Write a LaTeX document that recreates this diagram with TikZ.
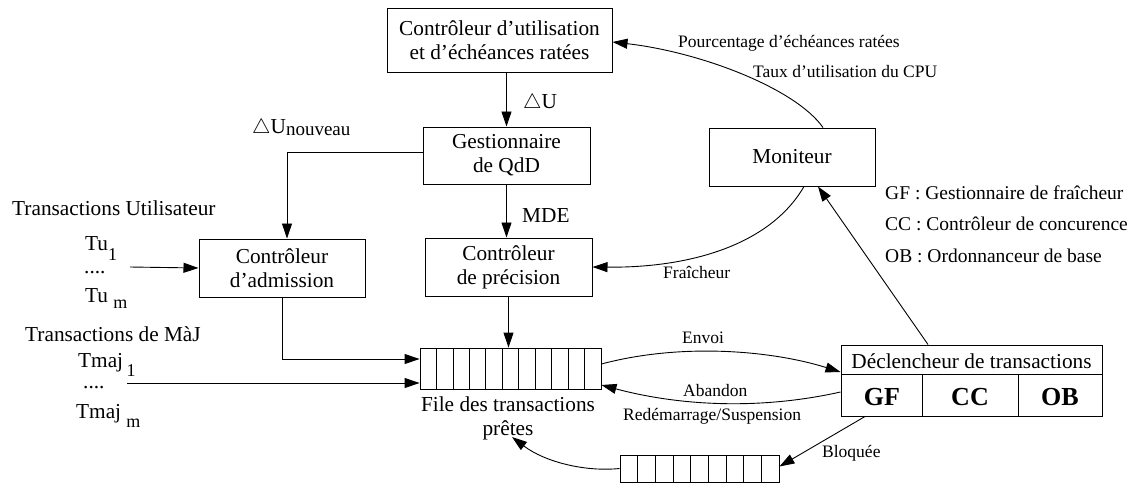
\documentclass[tikz,border=0pt]{standalone}
\usepackage{fontspec}
\setmainfont{Liberation Serif}
\usetikzlibrary{arrows.meta,calc}
\newcommand\fmain{\fontsize{21.3}{24}\selectfont}
\newcommand\fsmall{\fontsize{17.5}{20}\selectfont}
\newcommand\flegend{\fontsize{19.5}{22}\selectfont}
\newcommand\fbig{\fontsize{26}{28}\selectfont\bfseries}
\newcommand\fsub{\fontsize{18}{20}\selectfont}
\begin{document}
\begin{tikzpicture}[x=1pt,y=-1pt,
  box/.style={draw, line width=1pt, inner sep=0pt, align=center, font=\fmain},
  lbl/.style={inner sep=0pt, anchor=base west},
  arr/.style={line width=0.9pt, -{Triangle[length=15pt,width=10pt]}},
  plain/.style={line width=0.9pt},
  cell/.style={line width=0.8pt}]
\useasboundingbox (0,0) rectangle (1138,485);

% boxes
\node[box, minimum width=225pt, minimum height=64pt] (cu) at (499.5,40) {Contrôleur d’utilisation\\et d’échéances ratées};
\node[box, minimum width=167pt, minimum height=57pt] (qdd) at (506.5,155.5) {Gestionnaire\\de QdD};
\node[box, minimum width=167pt, minimum height=58pt] (prec) at (508.5,267) {Contrôleur\\de précision};
\node[box, minimum width=166pt, minimum height=58pt] (adm) at (282,268) {Contrôleur\\d’admission};
\node[box, minimum width=166pt, minimum height=58pt] (mon) at (792,157) {Moniteur};

% ready queue
\node[draw, line width=0.9pt, inner sep=0pt, minimum width=181pt, minimum height=41pt] (q) at (510.5,368.5) {};
\foreach \i in {1,...,10} \draw[cell] ({420+\i*181/11},348) -- ({420+\i*181/11},389);
\node[inner sep=0pt, align=center, font=\fmain] (fl) at (508,418) {File des transactions\\prêtes};

% blocked queue
\node[draw, line width=0.9pt, inner sep=0pt, minimum width=159pt, minimum height=27pt] (bq) at (699.5,468.5) {};
\foreach \i in {1,...,8} \draw[cell] ({620+\i*159/9},455) -- ({620+\i*159/9},482);

% trigger box
\node[draw, line width=1pt, inner sep=0pt, minimum width=261pt, minimum height=71pt] (dec) at (971.5,380.5) {};
\draw[line width=1pt] (841,374) -- (1102,374);
\draw[line width=1pt] (922,374) -- (922,416);
\draw[line width=1pt] (1018,374) -- (1018,416);
\node[lbl, anchor=base, font=\fmain] (dect) at (971.5,368) {Déclencheur de transactions};
\node[lbl, anchor=base, font=\fbig] (gf) at (882,405) {GF};
\node[lbl, anchor=base, font=\fbig] (cc) at (970,405) {CC};
\node[lbl, anchor=base, font=\fbig] (ob) at (1060,405) {OB};

% left texts
\node[lbl, font=\fmain] (tut) at (12,215) {Transactions Utilisateur};
\node[lbl, font=\fmain] (tu1) at (85,250) {Tu\raisebox{-10pt}{\fsub 1}};
\node[lbl, font=\fmain] (tud) at (84,273) {....};
\node[lbl, font=\fmain] (tum) at (85,302) {Tu \raisebox{-6pt}{\fsub m}};
\node[lbl, font=\fmain] (tmt) at (25,341) {Transactions de MàJ};
\node[lbl, font=\fmain] (tm1) at (78,367) {Tmaj\,\raisebox{-9pt}{\fsub 1}};
\node[lbl, font=\fmain] (tmd) at (83,388) {....};
\node[lbl, font=\fmain] (tmm) at (76,418) {Tmaj \raisebox{-9pt}{\fsub m}};
\coordinate (tu) at (130,267);
\coordinate (tm) at (127,383);

% labels
\node[lbl, font=\fmain] (du) at (523,108) {$\bigtriangleup$U};
\node[lbl, font=\fmain] (mde) at (522,222) {MDE};
\node[lbl, font=\fmain] (dun) at (252,133) {$\bigtriangleup$U\raisebox{-2pt}{\fontsize{19}{20}\selectfont nouveau}};
\node[lbl, font=\fsmall] (pct) at (678,47) {Pourcentage d’échéances ratées};
\node[lbl, font=\fsmall] (taux) at (753,77) {Taux d’utilisation du CPU};
\node[lbl, font=\fsmall] (fra) at (663,278) {Fraîcheur};
\node[lbl, font=\fsmall] (env) at (682,343) {Envoi};
\node[lbl, font=\fsmall] (aba) at (683,396) {Abandon};
\node[lbl, font=\fsmall] (red) at (623,420) {Redémarrage/Suspension};
\node[lbl, font=\fsmall] (blo) at (822,457) {Bloquée};
\node[lbl, font=\flegend] (lgf) at (885,199) {GF : Gestionnaire de fraîcheur};
\node[lbl, font=\flegend] (lcc) at (885,230) {CC : Contrôleur de concurence};
\node[lbl, font=\flegend] (lob) at (885,262) {OB : Ordonnanceur de base};
\coordinate (ptip) at (512,437);

% connectors
\draw[arr] (qdd.north |- cu.south) -- (qdd.north);
\draw[arr] (qdd.south) -- (qdd.south |- prec.north);
\draw[arr] (prec.south) -- (prec.south |- q.north);
\draw[arr] ([yshift=3pt]qdd.west) -| ([xshift=5pt]adm.north);
\draw[arr] (adm.south) |- ([yshift=9.5pt]q.west);
\draw[arr] (tm) -- ([yshift=-14.5pt]q.west);
\draw[arr] (tu) -- (adm.west);
\draw[arr] ([xshift=31pt]mon.north) .. controls (795,88) and (700,52) .. ([yshift=-2pt]cu.east);
\draw[arr] ([xshift=12pt]mon.south) .. controls (770,245) and (690,268) .. (prec.east);
\draw[arr] ([xshift=-43.5pt]dec.north) -- ([xshift=26pt]mon.south);
\draw[arr] ([yshift=4.5pt]q.east) .. controls (680,343) and (770,350) .. ([yshift=8.5pt]dec.west);
\draw[arr] ([yshift=-11.5pt]dec.west) .. controls (760,410) and (680,406) .. ([yshift=-16.5pt]q.east);
\draw[arr] ([xshift=-106.5pt]dec.south) -- ([yshift=2pt]bq.east);
\draw[arr] (bq.west) .. controls (585,472) and (545,462) .. (ptip);
\end{tikzpicture}
\end{document}
